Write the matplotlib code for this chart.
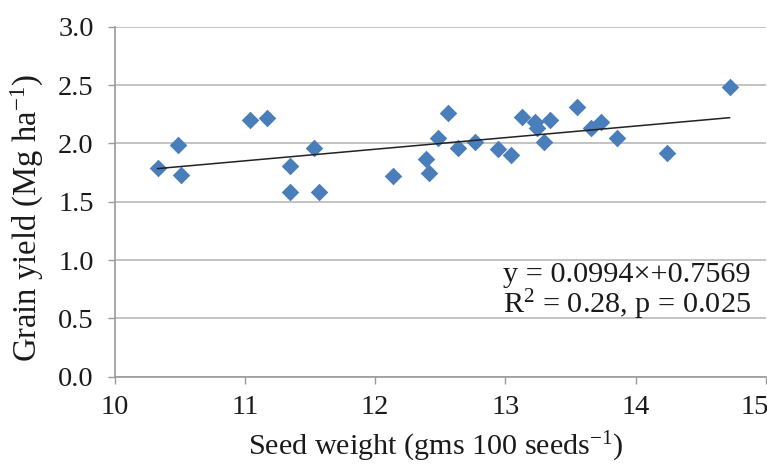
import matplotlib
matplotlib.use("Agg")
import matplotlib.pyplot as plt
from matplotlib.transforms import ScaledTranslation

plt.rcParams['font.family'] = ['Liberation Serif', 'DejaVu Serif']
plt.rcParams['mathtext.fontset'] = 'custom'
plt.rcParams['mathtext.rm'] = 'Liberation Serif'
plt.rcParams['mathtext.it'] = 'Liberation Serif:italic'

# seed weight (gms 100 seeds^-1) vs grain yield (Mg ha^-1)
seed_weight = [10.33, 10.49, 10.51, 11.04, 11.17, 11.35, 11.35, 11.53, 11.57,
               12.14, 12.39, 12.41, 12.48, 12.56, 12.64, 12.77, 12.94, 13.04,
               13.13, 13.23, 13.24, 13.30, 13.34, 13.55, 13.66, 13.73, 13.86,
               14.24, 14.72]
grain_yield = [1.79, 1.99, 1.73, 2.20, 2.22, 1.81, 1.58, 1.96, 1.58,
               1.72, 1.87, 1.75, 2.05, 2.26, 1.96, 2.01, 1.95, 1.90,
               2.23, 2.18, 2.13, 2.01, 2.20, 2.31, 2.13, 2.18, 2.05,
               1.92, 2.48]

slope = 0.0994
intercept = 0.7569

x_ticks = [10, 11, 12, 13, 14, 15]
y_ticks = [0.0, 0.5, 1.0, 1.5, 2.0, 2.5, 3.0]

fig = plt.figure(figsize=(7.67, 4.66), dpi=100)
ax = fig.add_axes([0.1493, 0.1916, 0.8494, 0.7511])

ax.scatter(seed_weight, grain_yield, marker='D', s=80, color='#4A7EBB',
           zorder=3, linewidths=0)

x_fit = [min(seed_weight), max(seed_weight)]
y_fit = [slope * v + intercept for v in x_fit]
ax.plot(x_fit, y_fit, color='#222222', lw=1.1, zorder=4)

ax.set_xlim(10, 15)
ax.set_ylim(0, 3)
ax.set_xticks(x_ticks)
ax.set_xticklabels([str(t) for t in x_ticks])
ax.set_yticks(y_ticks)
ax.set_yticklabels(['%.1f' % t for t in y_ticks])

ax.grid(axis='y', color='#BEBEBE', lw=1.3)
ax.set_axisbelow(True)
for s in ['top', 'right']:
    ax.spines[s].set_visible(False)
ax.spines['left'].set_color('#9A9A9A')
ax.spines['bottom'].set_color('#9A9A9A')
ax.spines['left'].set_linewidth(1.2)
ax.spines['bottom'].set_linewidth(1.2)
ax.tick_params(axis='both', colors='#9A9A9A', labelcolor='#1a1a1a',
               labelsize=20.5, length=5, width=1.0)
ax.tick_params(axis='x', pad=8)
ax.tick_params(axis='y', pad=10)

# last x label sits partly past the edge, as in the original
last = ax.get_xticklabels()[-1]
last.set_transform(last.get_transform() + ScaledTranslation(-11 / 100, 0, fig.dpi_scale_trans))

ax.set_xlabel('Seed weight (gms 100 seeds$^{-1}$)', fontsize=21.7,
              color='#1a1a1a', va='center')
ax.xaxis.set_label_coords(0.4935, -0.2)
ax.set_ylabel('Grain yield (Mg ha$^{-1}$)', fontsize=23.5, color='#1a1a1a',
              va='center')
ax.yaxis.set_label_coords(-0.134, 0.453)

ax.text(0.597, 0.270, 'y = 0.0994\u00d7+0.7569', transform=ax.transAxes,
        fontsize=21.8, color='#1a1a1a', va='baseline', ha='left')
ax.text(0.597, 0.182, 'R$^{2}$ = 0.28, p = 0.025', transform=ax.transAxes,
        fontsize=21.8, color='#1a1a1a', va='baseline', ha='left')

fig.savefig('out.png', dpi=100)
